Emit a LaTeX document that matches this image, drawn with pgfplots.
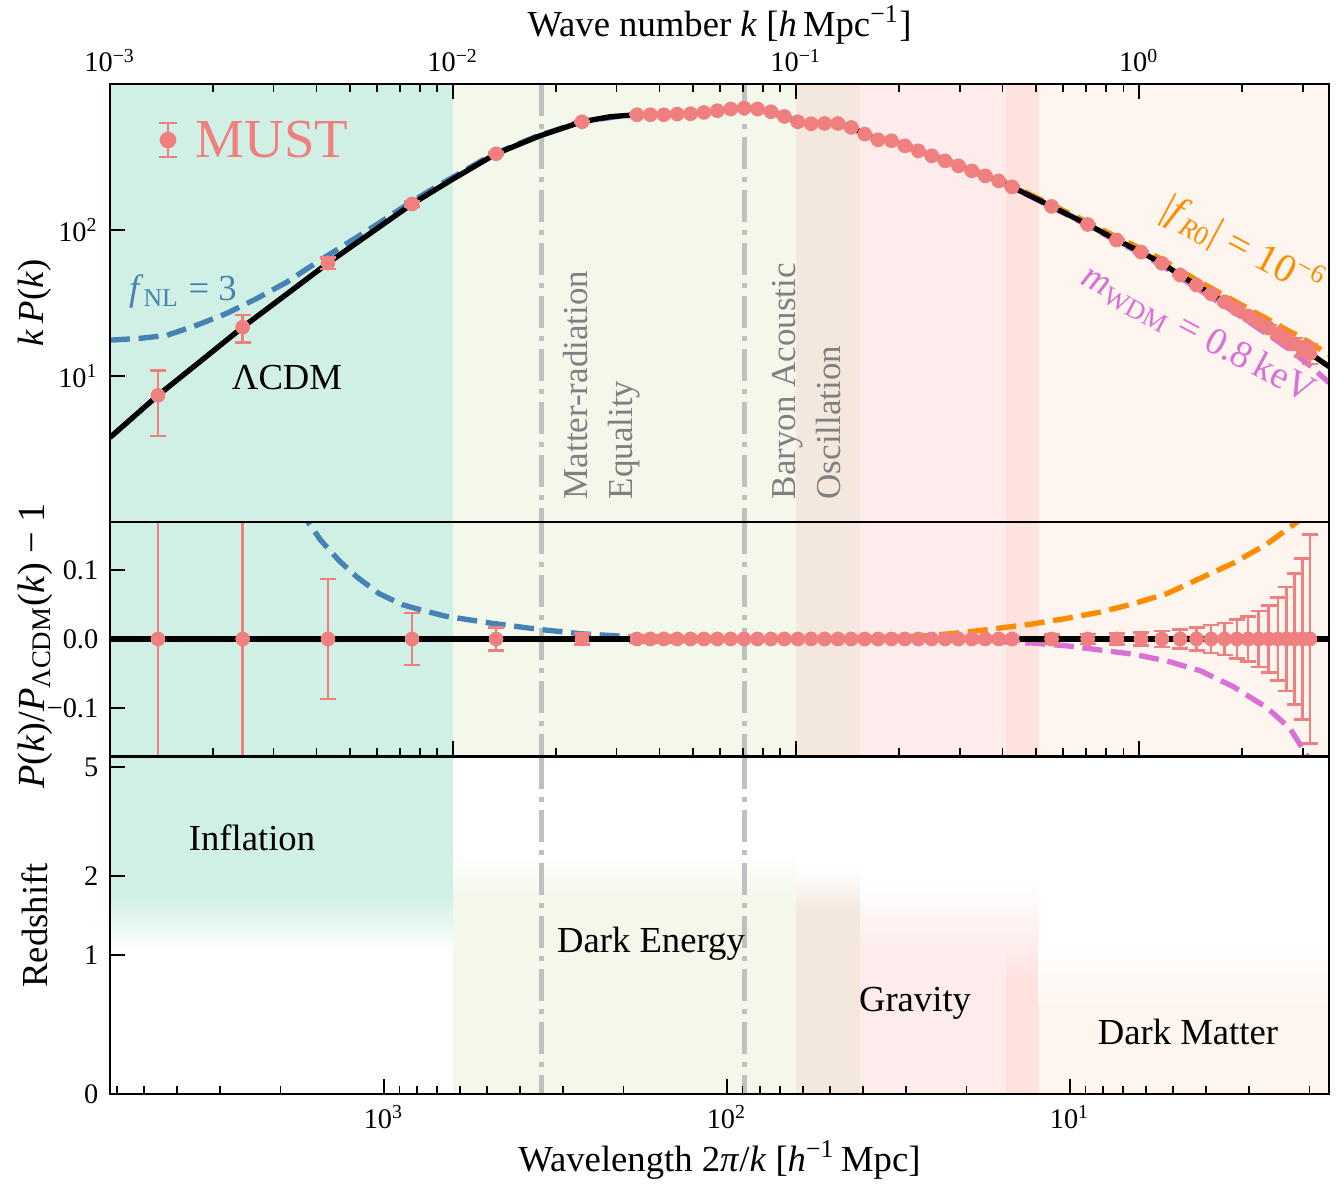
\documentclass[border=0pt]{standalone}
\usepackage{pgfplots}
\pgfplotsset{compat=1.18}
\usepackage{pgfplotstable}
\usepackage{fontspec}
\setmainfont{Liberation Serif}

\definecolor{lightcoral}{RGB}{240,128,128}
\definecolor{steelblue}{RGB}{70,130,180}
\definecolor{darkorange}{RGB}{255,140,0}
\definecolor{orchid}{RGB}{218,112,214}
\definecolor{cteal}{RGB}{209,240,229}
\definecolor{cgreen}{RGB}{243,248,235}
\definecolor{cbrown}{RGB}{244,232,222}
\definecolor{cpink}{RGB}{254,236,236}
\definecolor{cdpink}{RGB}{254,226,222}
\definecolor{cpeach}{RGB}{254,245,239}
\definecolor{dgray}{RGB}{192,192,192}

\pgfplotstableread{
k kP
0.001000 3.79
0.001380 7.37
0.001830 12.54
0.002437 21.6
0.003237 35.6
0.004321 59.4
0.005728 94.6
0.007596 150.7
0.01007 225.7
0.01335 332.6
0.01793 441.8
0.02377 551
0.02869 596.7
0.03438 615.8
0.03762 615.8
0.04116 615.8
0.04503 622.6
0.04927 625.6
0.05390 638.5
0.05898 655.9
0.06453 673.7
0.07060 684.4
0.07724 673.7
0.08451 645.6
0.09246 599.4
0.1012 551.1
0.1107 534.0
0.1211 536.5
0.1325 536.5
0.1449 503.7
0.1586 453.9
0.1735 414.7
0.1898 408.2
0.2077 377.2
0.2272 348.5
0.2486 322.0
0.2720 297.5
0.2976 275.0
0.3256 254.1
0.3562 234.8
0.3898 216.9
0.4264 197.3
0.556 145.0
0.7085 109.1
0.861 85.4
1.0135 70.6
1.166 59.1
1.3185 49.1
1.471 41.9
1.6235 36.5
1.776 32.2
1.9285 28.7
2.081 25.8
2.2335 23.3
2.386 21.3
2.5385 19.5
2.691 17.9
2.8435 16.6
2.996 15.4
3.1485 14.3
3.58 11.6
}\lcdm

\pgfplotstableread{
k kP err zero
0.001380 7.37 0.475 0
0.002437 21.6 0.213 0
0.004321 59.4 0.087 0
0.007596 150.7 0.038 0
0.01335 332.6 0.017 0
0.02377 551 0.008 0
0.03438 615.8 0.0060 0
0.03762 615.8 0.0055 0
0.04116 615.8 0.0050 0
0.04503 622.6 0.0045 0
0.04927 625.6 0.0040 0
0.05390 638.5 0.0036 0
0.05898 655.9 0.0032 0
0.06453 673.7 0.0028 0
0.07060 684.4 0.0025 0
0.07724 673.7 0.0023 0
0.08451 645.6 0.0021 0
0.09246 599.4 0.0020 0
0.1012 551.1 0.0019 0
0.1107 534.0 0.0018 0
0.1211 536.5 0.0018 0
0.1325 536.5 0.0018 0
0.1449 503.7 0.0018 0
0.1586 453.9 0.0018 0
0.1735 414.7 0.0019 0
0.1898 408.2 0.0020 0
0.2077 377.2 0.0021 0
0.2272 348.5 0.0022 0
0.2486 322.0 0.0023 0
0.2720 297.5 0.0025 0
0.2976 275.0 0.0027 0
0.3256 254.1 0.0030 0
0.3562 234.8 0.0033 0
0.3898 216.9 0.0036 0
0.4264 197.3 0.0040 0
0.556 145.0 0.0065 0
0.7085 109.1 0.0072 0
0.861 85.4 0.0082 0
1.0135 70.6 0.0097 0
1.166 59.1 0.0115 0
1.3185 49.1 0.014 0
1.471 41.9 0.017 0
1.6235 36.5 0.020 0
1.776 32.2 0.0235 0
1.9285 28.7 0.028 0
2.081 25.8 0.033 0
2.2335 23.3 0.041 0
2.386 21.3 0.049 0
2.5385 19.5 0.060 0
2.691 17.9 0.0755 0
2.8435 16.6 0.095 0
2.996 15.4 0.117 0
3.1485 14.3 0.152 0
}\must

\pgfplotstableread{
k kP
0.001000 17.6
0.001223 18.1
0.001466 19.0
0.001793 22.3
0.002194 26.9
0.002683 34.0
0.003281 44.0
0.003778 54.8
0.004123 62.5
0.004652 74.8
0.005250 89.3
0.006086 111.4
0.007101 141.6
0.008229 176.0
0.009541 215.8
0.01291 324.9
0.01746 436.7
0.02346 549.3
0.03173 609.3
0.04292 620.9
}\fnltop
\pgfplotstableread{
k d
0.002926 0.262
0.003348 0.209
0.003778 0.170
0.004123 0.143
0.004652 0.114
0.005250 0.090
0.006086 0.066
0.007101 0.050
0.008229 0.041
0.009541 0.033
0.01291 0.023
0.01746 0.0145
0.02346 0.0077
0.03173 0.0038
0.04292 0.0014
0.06005 0.0003
0.1 0.0
}\fnlmid

\pgfplotstableread{
k kP
0.1898 409.2
0.2077 378.4
0.2272 349.9
0.2486 323.7
0.2720 299.6
0.2976 277.4
0.3256 256.9
0.3562 237.9
0.3898 220.3
0.4264 200.9
0.556 148.8
0.7085 113.0
0.861 89.3
1.0135 74.4
1.166 62.9
1.3185 52.8
1.471 45.5
1.6235 40.0
1.776 35.6
1.9285 31.9
2.081 29.0
2.2335 26.4
2.386 24.3
2.5385 22.4
2.691 20.7
2.8435 19.4
2.996 18.1
3.1485 16.9
3.58 14.0
}\fRtop
\pgfplotstableread{
k d
0.1 0.0
0.1437 0.001
0.2010 0.003
0.2459 0.005
0.3007 0.009
0.3678 0.014
0.4909 0.022
0.6167 0.030
0.7696 0.039
0.9605 0.051
1.2067 0.066
1.5058 0.088
1.8792 0.110
2.3613 0.138
2.888 0.170
3.260 0.190
}\fRmid

\pgfplotstableread{
k kP
0.1898 407.8
0.2077 376.8
0.2272 348.0
0.2486 321.5
0.2720 297.0
0.2976 274.5
0.3256 253.5
0.3562 234.1
0.3898 216.1
0.4264 196.4
0.556 143.8
0.7085 107.6
0.861 83.8
1.0135 68.9
1.166 57.3
1.3185 47.3
1.471 40.0
1.6235 34.5
1.776 30.2
1.9285 26.6
2.081 23.7
2.2335 21.1
2.386 19.1
2.5385 17.3
2.691 15.7
2.8435 14.3
2.996 12.9
3.1485 11.8
3.58 9.0
}\wdmtop
\pgfplotstableread{
k d
0.1 0.0
0.2010 -0.001
0.3007 -0.002
0.3934 -0.004
0.4909 -0.006
0.6167 -0.010
0.7696 -0.016
0.9605 -0.022
1.2067 -0.032
1.5058 -0.046
1.8792 -0.069
2.3613 -0.100
2.7556 -0.130
3.048 -0.165
3.371 -0.200
}\wdmmid

\tikzset{
  vline/.style={dgray, line width=1.5pt, dash pattern=on 9.6pt off 2.4pt on 1.5pt off 2.4pt},
  dashedmodel/.style={line width=1.6pt, dash pattern=on 6pt off 2.6pt},
}

\begin{document}
\begin{tikzpicture}
\useasboundingbox (-33pt,-27pt) rectangle (370.2pt,328.2pt);

% ---------------- bottom panel: redshift ----------------
\begin{axis}[scale only axis, width=365.7pt, height=101.1pt, at={(0pt,0pt)}, anchor=south west,
  xmode=log, xmin=0.001, xmax=3.58, axis on top, tick align=inside,
  axis line style={line width=0.6pt}, tick style={black, line width=0.5pt},
  major tick length=4.5pt, minor tick length=2.3pt,
  tick label style={font=\fontsize{8.5}{10}\selectfont},
  label style={font=\fontsize{11}{13}\selectfont},
  ylabel style={at={(axis description cs:-0.0615,0.5)}, anchor=center},
  yminorticks=false,
  ymin=0, ymax=337, ytick={0,139,218,327}, yticklabels={0,1,2,5}, ytick pos=left,
  xtick={0.0062832,0.062832,0.62832},
  xticklabels={10\textsuperscript{3},10\textsuperscript{2},10\textsuperscript{1}},
  minor xtick={0.0010472,0.0012566,0.0015708,0.0020944,0.0031416,0.0069813,0.0078540,0.0089760,0.010472,0.012566,0.015708,0.020944,0.031416,0.069813,0.078540,0.089760,0.10472,0.12566,0.15708,0.20944,0.31416,0.69813,0.78540,0.89760,1.0472,1.2566,1.5708,2.0944,3.1416},
  xtick pos=left,
  xlabel={Wavelength 2\textit{π}/\textit{k} [\textit{h}\textsuperscript{−1}\,Mpc]},
  xlabel style={at={(axis description cs:0.5,-0.196)}, anchor=center},
  ylabel={Redshift}]
\fill[cteal] (axis cs:0.001,197) rectangle (axis cs:0.01,337);
\path[top color=cteal, bottom color=white] (axis cs:0.001,141) rectangle (axis cs:0.01,197.5);
\fill[cgreen] (axis cs:0.01,0) rectangle (axis cs:0.1,197);
\path[top color=white, bottom color=cgreen] (axis cs:0.01,196.5) rectangle (axis cs:0.1,244);
\fill[cbrown] (axis cs:0.1,0) rectangle (axis cs:0.154,184);
\path[top color=white, bottom color=cbrown] (axis cs:0.1,183.5) rectangle (axis cs:0.154,226);
\fill[cpink] (axis cs:0.154,0) rectangle (axis cs:0.41,147);
\path[top color=white, bottom color=cpink] (axis cs:0.154,146.5) rectangle (axis cs:0.51,214);
\fill[cdpink] (axis cs:0.41,0) rectangle (axis cs:0.51,115);
\path[top color=cpink, bottom color=cdpink] (axis cs:0.41,114.5) rectangle (axis cs:0.51,147);
\fill[cpeach] (axis cs:0.51,0) rectangle (axis cs:3.58,87);
\path[top color=white, bottom color=cpeach] (axis cs:0.51,86.5) rectangle (axis cs:3.58,154);
\draw[vline] (axis cs:0.01814,337) -- (axis cs:0.01814,0);
\draw[vline] (axis cs:0.0710,337) -- (axis cs:0.0710,0);
\node[font=\fontsize{11}{13}\selectfont] at (rel axis cs:0.1165,0.7596) {Inflation};
\node[font=\fontsize{11}{13}\selectfont] at (rel axis cs:0.4438,0.4451) {Dark Energy};
\node[font=\fontsize{11}{13}\selectfont] at (rel axis cs:0.6604,0.27) {Gravity};
\node[font=\fontsize{11}{13}\selectfont] at (rel axis cs:0.8843,0.184) {Dark Matter};
\end{axis}

% ---------------- middle panel: ratio ----------------
\begin{axis}[scale only axis, width=365.7pt, height=70.2pt, at={(0pt,101.4pt)}, anchor=south west,
  xmode=log, xmin=0.001, xmax=3.58, axis on top, tick align=inside,
  axis line style={line width=0.6pt}, tick style={black, line width=0.5pt},
  major tick length=4.5pt, minor tick length=2.3pt,
  tick label style={font=\fontsize{8.5}{10}\selectfont},
  label style={font=\fontsize{11.5}{13}\selectfont},
  ylabel style={at={(axis description cs:-0.0615,0.47)}, anchor=center},
  yminorticks=false,
  ymin=-0.17, ymax=0.17, ytick={-0.1,0,0.1}, yticklabels={−0.1,0.0,0.1}, ytick pos=left,
  xtick={0.001,0.01,0.1,1}, xticklabels={,,,},
  minor xtick={0.002,0.003,0.004,0.005,0.006,0.007,0.008,0.009,0.02,0.03,0.04,0.05,0.06,0.07,0.08,0.09,0.2,0.3,0.4,0.5,0.6,0.7,0.8,0.9,2,3},
  xtick pos=left,
  ylabel={\textit{P}(\textit{k})/\textit{P}\textsubscript{ΛCDM}(\textit{k}) − 1}]
\fill[cteal] (axis cs:0.001,-0.17) rectangle (axis cs:0.01,0.17);
\fill[cgreen] (axis cs:0.01,-0.17) rectangle (axis cs:0.1,0.17);
\fill[cbrown] (axis cs:0.1,-0.17) rectangle (axis cs:0.154,0.17);
\fill[cpink] (axis cs:0.154,-0.17) rectangle (axis cs:0.41,0.17);
\fill[cdpink] (axis cs:0.41,-0.17) rectangle (axis cs:0.51,0.17);
\fill[cpeach] (axis cs:0.51,-0.17) rectangle (axis cs:3.58,0.17);
\draw[vline] (axis cs:0.01814,0.17) -- (axis cs:0.01814,-0.17);
\draw[vline] (axis cs:0.0710,0.17) -- (axis cs:0.0710,-0.17);
\addplot[steelblue, dashedmodel] table[x=k, y=d] {\fnlmid};
\addplot[darkorange, dashedmodel] table[x=k, y=d] {\fRmid};
\addplot[orchid, dashedmodel] table[x=k, y=d] {\wdmmid};
\addplot[black, line width=1.7pt] coordinates {(0.001,0) (3.58,0)};
\addplot[only marks, mark=*, mark size=2pt, color=lightcoral,
  mark options={fill=lightcoral, draw=lightcoral},
  error bars/y dir=both, error bars/y explicit,
  error bars/error bar style={line width=0.75pt, draw=lightcoral},
  error bars/error mark options={rotate=90, mark size=2.4pt, line width=0.75pt, draw=lightcoral}]
  table[x=k, y=zero, y error=err] {\must};
\end{axis}

% ---------------- top panel: k P(k) ----------------
\begin{axis}[scale only axis, width=365.7pt, height=131.4pt, at={(0pt,171.6pt)}, anchor=south west,
  xmode=log, xmin=0.001, xmax=3.58, axis on top, tick align=inside,
  axis line style={line width=0.6pt}, tick style={black, line width=0.5pt},
  major tick length=4.5pt, minor tick length=2.3pt,
  tick label style={font=\fontsize{8.5}{10}\selectfont},
  label style={font=\fontsize{11}{13}\selectfont},
  ylabel style={at={(axis description cs:-0.0615,0.5)}, anchor=center},
  yminorticks=false,
  ymode=log, ymin=1, ymax=1000, ytick={10,100},
  yticklabels={10\textsuperscript{1},10\textsuperscript{2}}, ytick pos=left,
  xtick={0.001,0.01,0.1,1},
  xticklabels={10\textsuperscript{−3},10\textsuperscript{−2},10\textsuperscript{−1},10\textsuperscript{0}},
  minor xtick={0.002,0.003,0.004,0.005,0.006,0.007,0.008,0.009,0.02,0.03,0.04,0.05,0.06,0.07,0.08,0.09,0.2,0.3,0.4,0.5,0.6,0.7,0.8,0.9,2,3},
  xtick pos=right, xticklabel pos=right,
  xlabel={Wave number \textit{k} [\textit{h}\,Mpc\textsuperscript{−1}]},
  xlabel style={at={(axis description cs:0.5,1.1347)}, anchor=center},
  ylabel={\textit{k}\,\textit{P}(\textit{k})}]
\fill[cteal] (axis cs:0.001,1) rectangle (axis cs:0.01,1000);
\fill[cgreen] (axis cs:0.01,1) rectangle (axis cs:0.1,1000);
\fill[cbrown] (axis cs:0.1,1) rectangle (axis cs:0.154,1000);
\fill[cpink] (axis cs:0.154,1) rectangle (axis cs:0.41,1000);
\fill[cdpink] (axis cs:0.41,1) rectangle (axis cs:0.51,1000);
\fill[cpeach] (axis cs:0.51,1) rectangle (axis cs:3.58,1000);
\draw[vline] (axis cs:0.01814,1000) -- (axis cs:0.01814,1);
\draw[vline] (axis cs:0.0710,1000) -- (axis cs:0.0710,1);
\addplot[steelblue, dashedmodel] table[x=k, y=kP] {\fnltop};
\addplot[darkorange, dashedmodel] table[x=k, y=kP] {\fRtop};
\addplot[orchid, dashedmodel] table[x=k, y=kP] {\wdmtop};
\addplot[black, line width=1.6pt] table[x=k, y=kP] {\lcdm};
\addplot[only marks, mark=*, mark size=2pt, color=lightcoral,
  mark options={fill=lightcoral, draw=lightcoral},
  error bars/y dir=both, error bars/y explicit relative,
  error bars/error bar style={line width=0.75pt, draw=lightcoral},
  error bars/error mark options={rotate=90, mark size=2.4pt, line width=0.75pt, draw=lightcoral}]
  table[x=k, y=kP, y error=err] {\must};
% legend "MUST"
\draw[lightcoral, line width=0.8pt] (rel axis cs:0.0476,0.833) -- (rel axis cs:0.0476,0.911);
\draw[lightcoral, line width=0.8pt] ([xshift=-2.6pt]rel axis cs:0.0476,0.911) -- ([xshift=2.6pt]rel axis cs:0.0476,0.911);
\draw[lightcoral, line width=0.8pt] ([xshift=-2.6pt]rel axis cs:0.0476,0.833) -- ([xshift=2.6pt]rel axis cs:0.0476,0.833);
\fill[lightcoral] (rel axis cs:0.0476,0.872) circle (2.5pt);
\node[lightcoral, anchor=west, inner sep=0pt, font=\fontsize{16.5}{18}\selectfont] at (rel axis cs:0.0697,0.872) {MUST};
\node[steelblue, font=\fontsize{11}{13}\selectfont] at (rel axis cs:0.0599,0.5251) {\textit{f}\textsubscript{NL} = 3};
\node[font=\fontsize{11}{13}\selectfont] at (rel axis cs:0.1452,0.3288) {ΛCDM};
\node[darkorange, rotate=-28, font=\fontsize{12}{14}\selectfont] at (rel axis cs:0.9290,0.628) {|\textit{f}\textsubscript{\textit{R}0}| = 10\textsuperscript{−6}};
\node[orchid, rotate=-28, font=\fontsize{11.5}{13}\selectfont] at (rel axis cs:0.8925,0.4275) {\textit{m}\textsubscript{WDM} = 0.8\,keV};
\node[gray, rotate=90, anchor=north west, inner sep=0pt, align=left, font=\fontsize{10.5}{13.5}\selectfont] at (rel axis cs:0.3716,0.0502) {Matter-radiation\\Equality};
\node[gray, rotate=90, anchor=north west, inner sep=0pt, align=left, font=\fontsize{10.5}{13.5}\selectfont] at (rel axis cs:0.5430,0.0502) {Baryon Acoustic\\Oscillation};
\end{axis}
\end{tikzpicture}
\end{document}
